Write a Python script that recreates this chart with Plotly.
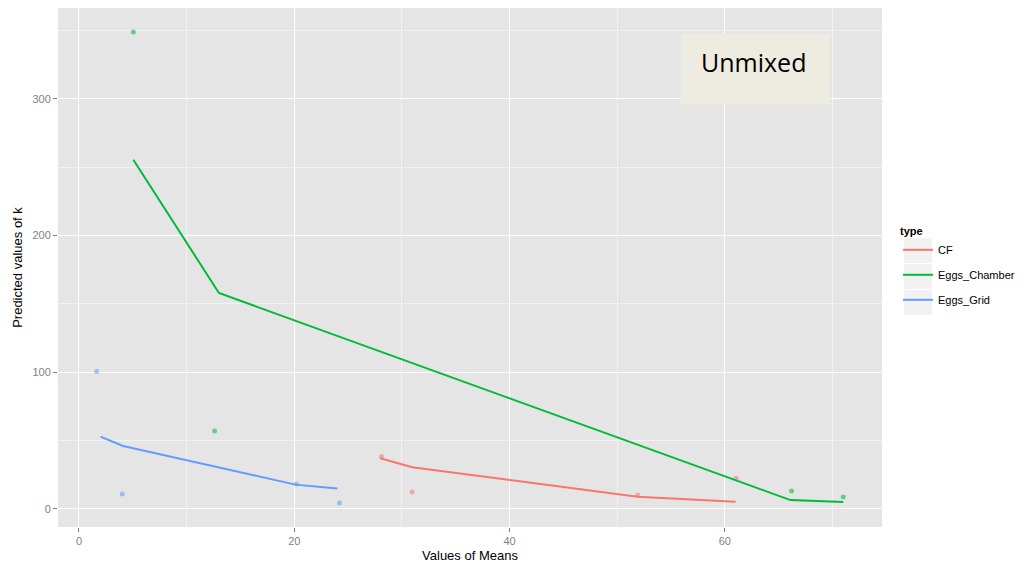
import plotly.graph_objects as go

# ---- data ----
series_names = ["CF", "Eggs_Chamber", "Eggs_Grid"]
series_colors = ["#F8766D", "#00BA38", "#619CFF"]

cf_pt_x = [28.1, 30.95, 51.9, 61.05]
cf_pt_y = [38.3, 12.4, 10.2, 22.4]
cf_ln_x = [28.0, 30.95, 51.9, 61.0]
cf_ln_y = [37.1, 30.5, 9.0, 5.2]

ch_pt_x = [5.05, 12.6, 66.2, 71.0]
ch_pt_y = [349.0, 57.0, 13.2, 8.8]
ch_ln_x = [5.05, 13.0, 66.1, 71.0]
ch_ln_y = [255.5, 158.0, 6.5, 5.1]

gr_pt_x = [1.64, 4.02, 20.2, 24.2]
gr_pt_y = [100.5, 11.0, 18.3, 4.4]
gr_ln_x = [2.0, 4.1, 20.1, 24.0]
gr_ln_y = [52.9, 46.1, 17.8, 14.9]

x_ticks = [0, 20, 40, 60]
y_ticks = [0, 100, 200, 300]

points = [(cf_pt_x, cf_pt_y), (ch_pt_x, ch_pt_y), (gr_pt_x, gr_pt_y)]
lines = [(cf_ln_x, cf_ln_y), (ch_ln_x, ch_ln_y), (gr_ln_x, gr_ln_y)]

fig = go.Figure()
for name, col, (px_, py_) in zip(series_names, series_colors, points):
    fig.add_trace(go.Scatter(x=px_, y=py_, mode="markers", name=name,
                             legendgroup=name, showlegend=False,
                             marker=dict(color=col, size=5, opacity=0.55),
                             hoverinfo="x+y"))
for name, col, (lx, ly) in zip(series_names, series_colors, lines):
    fig.add_trace(go.Scatter(x=lx, y=ly, mode="lines", name=name,
                             legendgroup=name,
                             line=dict(color=col, width=2)))

# legend key backgrounds (ggplot style)
key_shapes = []
for i in range(3):
    top = 238 + i * 26
    bot = top + 25
    key_shapes.append(dict(type="rect", xref="paper", yref="paper",
                           x0=(904 - 58) / 824, x1=(932 - 58) / 824,
                           y0=(527 - bot) / 519, y1=(527 - top) / 519,
                           fillcolor="#F2F2F2", line=dict(width=0), layer="below"))

fig.update_layout(
    width=1031, height=567,
    margin=dict(l=58, r=149, t=8, b=40, autoexpand=False),
    paper_bgcolor="white",
    plot_bgcolor="#E5E5E5",
    font=dict(family="Liberation Sans, Arial, sans-serif", size=11, color="black"),
    showlegend=True,
    legend=dict(
        title=dict(text="<b>type</b>", font=dict(size=11, color="black")),
        x=(898 - 58) / 824, xanchor="left",
        y=(527 - 221) / 519, yanchor="top",
        bgcolor="rgba(0,0,0,0)",
        font=dict(size=11, color="black"),
        itemwidth=30,
        tracegroupgap=6,
    ),
    shapes=key_shapes,
    xaxis=dict(
        range=[-1.95, 74.6],
        tickvals=x_ticks,
        ticktext=[str(v) for v in x_ticks],
        showgrid=True, gridcolor="white", gridwidth=1.2,
        minor=dict(tickvals=[10, 30, 50, 70], showgrid=True,
                   gridcolor="#F2F2F2", gridwidth=0.6),
        zeroline=False, automargin=False,
        ticks="outside", ticklen=4, tickcolor="#7F7F7F",
        tickfont=dict(size=11, color="#7F7F7F"),
        title=dict(text="Values of Means", font=dict(size=13, color="black"), standoff=4),
        showline=False,
    ),
    yaxis=dict(
        range=[-13.2, 366.5],
        tickvals=y_ticks,
        ticktext=[str(v) for v in y_ticks],
        showgrid=True, gridcolor="white", gridwidth=1.2,
        minor=dict(tickvals=[50, 150, 250, 350], showgrid=True,
                   gridcolor="#F2F2F2", gridwidth=0.6),
        zeroline=False, automargin=False,
        ticks="outside", ticklen=4, tickcolor="#7F7F7F",
        tickfont=dict(size=11, color="#7F7F7F"),
        title=dict(text="Predicted values of k", font=dict(size=13, color="black"), standoff=6),
        showline=False,
    ),
)

# "Unmixed" label box
fig.add_shape(type="rect", xref="paper", yref="paper",
              x0=(681 - 58) / 824, x1=(830 - 58) / 824,
              y0=(527 - 104) / 519, y1=(527 - 34) / 519,
              fillcolor="#EEEBE0", line=dict(width=0), layer="above")
fig.add_annotation(xref="paper", yref="paper",
                   x=(753 - 58) / 824, y=(527 - 62) / 519,
                   text="Unmixed", showarrow=False,
                   font=dict(family="Open Sans, Noto Sans, sans-serif", size=25, color="black"),
                   xanchor="center", yanchor="middle")

fig.write_html("out.html")
